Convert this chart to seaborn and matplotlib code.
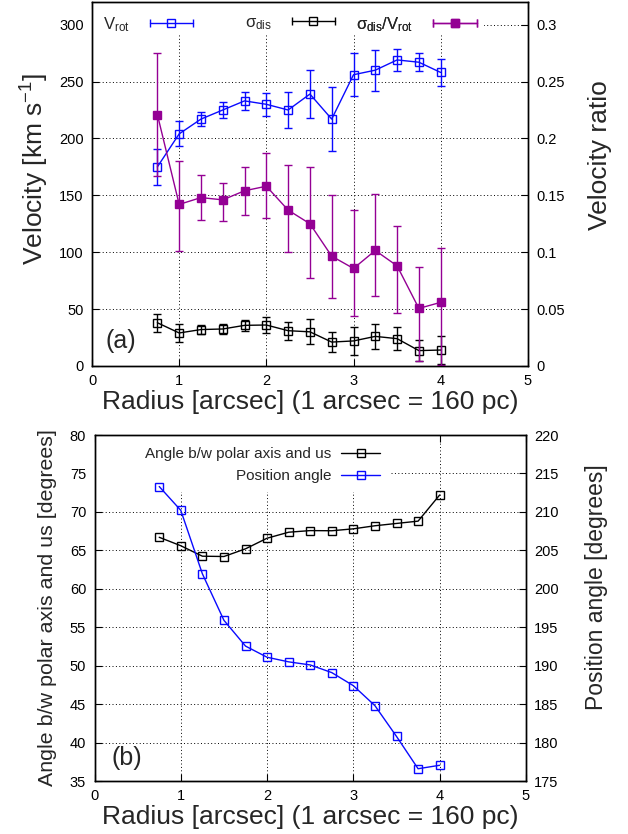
import numpy as np
import pandas as pd
import matplotlib
matplotlib.use('Agg')
import matplotlib.pyplot as plt
import seaborn as sns
from matplotlib.lines import Line2D
from matplotlib.patches import Rectangle
from matplotlib.legend_handler import HandlerLine2D, HandlerTuple

sns.set_theme(style='white')
plt.rcParams['font.family'] = ['Liberation Sans', 'DejaVu Sans']
plt.rcParams['mathtext.fontset'] = 'custom'
plt.rcParams['mathtext.rm'] = 'Liberation Sans'
plt.rcParams['mathtext.it'] = 'Liberation Sans'

# radius [arcsec]
radius = [0.75, 1.0, 1.25, 1.5, 1.75, 2.0, 2.25, 2.5, 2.75, 3.0, 3.25, 3.5, 3.75, 4.0]

# rotation velocity and error [km/s]
v_rot = [175, 204, 217, 225, 233, 230, 225, 239, 217, 256, 260, 269, 267, 258]
v_rot_err = [16, 11, 6.5, 7, 7.7, 10, 16, 21, 28, 19, 18, 10, 8, 12]

# dispersion and error [km/s]
sig_dis = [38, 29, 32, 32.5, 35.7, 36, 31, 30, 21, 22, 26, 24, 13.5, 14]
sig_dis_err = [8, 8, 4, 4, 5, 7, 8, 11, 9, 12, 11, 10, 9.5, 12.5]

# ratio sigma/vrot with asymmetric bounds
ratio = [0.221, 0.142, 0.148, 0.146, 0.154, 0.158, 0.137, 0.125, 0.0965,
         0.0857, 0.1015, 0.088, 0.0506, 0.0559]
ratio_lo = [0.167, 0.101, 0.128, 0.127, 0.1325, 0.130, 0.100, 0.0775, 0.060,
            0.0439, 0.0617, 0.0468, 0.004, 0.001]
ratio_hi = [0.275, 0.180, 0.168, 0.161, 0.175, 0.187, 0.177, 0.175, 0.150,
            0.1374, 0.151, 0.1234, 0.0871, 0.1038]

# angle between polar axis and line of sight [deg]
incl = [66.7, 65.6, 64.24, 64.2, 65.2, 66.58, 67.36, 67.57, 67.55,
        67.8, 68.2, 68.5, 68.8, 72.2]
# position angle [deg]
pos_angle = [213.3, 210.2, 201.95, 195.9, 192.55, 191.1, 190.5, 190.1,
             189.1, 187.4, 184.8, 180.8, 176.6, 177.05]

BLUE = '#0a0aff'
PURPLE = '#940094'
BLACK = '#000000'

df = pd.DataFrame({'r': radius, 'vrot': v_rot, 'sig': sig_dis,
                   'ratio': ratio, 'incl': incl, 'pa': pos_angle})

fig = plt.figure(figsize=(6.28, 8.34), dpi=100)
ax1 = fig.add_axes([0.1465, 0.5612, 0.694, 0.4365])
ax1r = ax1.twinx()
ax2 = fig.add_axes([0.1505, 0.0635, 0.687, 0.4149])
ax2r = ax2.twinx()

ms = 5.5
tick_fs = 10.5
lab_fs = 19


def style_axes(ax, axr):
    for a in (ax, axr):
        for s in a.spines.values():
            s.set_color('black')
            s.set_linewidth(1.0)
        a.tick_params(direction='in', length=5, width=0.8, labelsize=tick_fs,
                      colors='black', pad=6)
    ax.tick_params(axis='x', top=True, bottom=True)
    ax.grid(True, color='black', linestyle=(0, (1, 2.5)), linewidth=0.7)
    ax.set_axisbelow(True)
    ax.set_xlim(0, 5)
    ax.set_xticks([0, 1, 2, 3, 4, 5])


def key_box(ax, w, h):
    # opaque key area, hides grid behind the key like gnuplot's "key opaque"
    ax.add_patch(Rectangle((0, 1 - h), w, h, transform=ax.transAxes,
                           facecolor='white', edgecolor='none', zorder=1))


# ---------------- panel (a) ----------------
style_axes(ax1, ax1r)
ax1.set_ylim(0, 320)
ax1.set_yticks(range(0, 301, 50))
ax1r.set_ylim(0, 0.32)
ax1r.set_yticks([0, 0.05, 0.1, 0.15, 0.2, 0.25, 0.3])
ax1r.set_yticklabels(['0', '0.05', '0.1', '0.15', '0.2', '0.25', '0.3'])
key_box(ax1, 0.899, 0.088)

ax1.errorbar(radius, v_rot, yerr=v_rot_err, fmt='none', ecolor=BLUE,
             elinewidth=1, capsize=3, capthick=1)
sns.lineplot(data=df, x='r', y='vrot', ax=ax1, color=BLUE, marker='s',
             markersize=ms, markerfacecolor='none', markeredgecolor=BLUE,
             markeredgewidth=1, linewidth=1)
ax1.errorbar(radius, sig_dis, yerr=sig_dis_err, fmt='none', ecolor=BLACK,
             elinewidth=1, capsize=3, capthick=1)
sns.lineplot(data=df, x='r', y='sig', ax=ax1, color=BLACK, marker='s',
             markersize=ms, markerfacecolor='none', markeredgecolor=BLACK,
             markeredgewidth=1, linewidth=1)
r_lo = np.array(ratio) - np.array(ratio_lo)
r_hi = np.array(ratio_hi) - np.array(ratio)
ax1r.errorbar(radius, ratio, yerr=[r_lo, r_hi], fmt='none', ecolor=PURPLE,
              elinewidth=1, capsize=3, capthick=1)
sns.lineplot(data=df, x='r', y='ratio', ax=ax1r, color=PURPLE, marker='s',
             markersize=ms, markerfacecolor=PURPLE, markeredgecolor=PURPLE,
             markeredgewidth=1, linewidth=1)

ax1.set_xlabel('Radius [arcsec] (1 arcsec = 160 pc)', fontsize=lab_fs,
               labelpad=1)
ax1.set_ylabel('Velocity [km s$^{-1}$]', fontsize=lab_fs, labelpad=6)
ax1.yaxis.label.set_y(0.54)
ax1r.set_ylabel('Velocity ratio', fontsize=lab_fs, labelpad=17)
ax1r.yaxis.label.set_y(0.58)
ax1.text(0.03, 0.05, '(a)', transform=ax1.transAxes, fontsize=18)


def err_handle(color, filled):
    caps = Line2D([], [], color=color, linewidth=1, marker='|',
                  markersize=6, markeredgewidth=1)
    sq = Line2D([], [], color=color, linestyle='none', marker='s',
                markersize=ms, markeredgecolor=color, markeredgewidth=1,
                markerfacecolor=color if filled else 'none')
    return (caps, sq), caps


# gnuplot style key: three separate entries along the top
key_items = [(BLUE, False, 'V$_{\\rm rot}$', 0.274),
             (BLACK, False, '$\\sigma_{\\rm dis}$', 0.5995),
             (PURPLE, True, '$\\sigma_{\\rm dis}$/V$_{\\rm rot}$', 0.925)]
for color, filled, text, xa in key_items:
    h, c = err_handle(color, filled)
    hmap = {tuple: HandlerTuple(ndivide=1, pad=0),
            c: HandlerLine2D(numpoints=2)}
    leg = ax1r.legend([h], [text], handler_map=hmap, loc='upper right',
                      bbox_to_anchor=(xa, 1.0), frameon=False,
                      markerfirst=False, fontsize=12, handlelength=3.2,
                      handletextpad=0.9, borderaxespad=0.4)
    ax1r.add_artist(leg)

# ---------------- panel (b) ----------------
style_axes(ax2, ax2r)
ax2.set_ylim(35, 80)
ax2.set_yticks(range(35, 81, 5))
ax2r.set_ylim(175, 220)
ax2r.set_yticks(range(175, 221, 5))
key_box(ax2, 0.685, 0.165)

sns.lineplot(data=df, x='r', y='incl', ax=ax2, color=BLACK, marker='s',
             markersize=ms, markerfacecolor='none', markeredgecolor=BLACK,
             markeredgewidth=1, linewidth=1,
             label='Angle b/w polar axis and us', legend=False)
sns.lineplot(data=df, x='r', y='pa', ax=ax2r, color=BLUE, marker='s',
             markersize=ms, markerfacecolor='none', markeredgecolor=BLUE,
             markeredgewidth=1, linewidth=1, label='Position angle',
             legend=False)

ax2.set_xlabel('Radius [arcsec] (1 arcsec = 160 pc)', fontsize=lab_fs,
               labelpad=1)
ax2.set_ylabel('Angle b/w polar axis and us [degrees]', fontsize=15.4,
               labelpad=9)
ax2r.set_ylabel('Position angle [degrees]', fontsize=16.5, labelpad=19)
ax2r.yaxis.label.set_y(0.56)
ax2.text(0.04, 0.045, '(b)', transform=ax2.transAxes, fontsize=18)

hl = [ax2.get_lines()[-1], ax2r.get_lines()[-1]]
ax2r.legend(hl, [h.get_label() for h in hl], loc='upper right',
            bbox_to_anchor=(0.691, 1.0), frameon=False, markerfirst=False,
            fontsize=11, handlelength=2.6, handletextpad=0.6,
            labelspacing=0.5, borderaxespad=0.4)
for t in ax2r.get_legend().get_texts():
    t.set_ha('right')
ax2r.get_legend()._legend_box.align = 'right'

for a in (ax1, ax2):
    a.set_xticklabels(['0', '1', '2', '3', '4', '5'])

fig.savefig('out.png', dpi=100)
